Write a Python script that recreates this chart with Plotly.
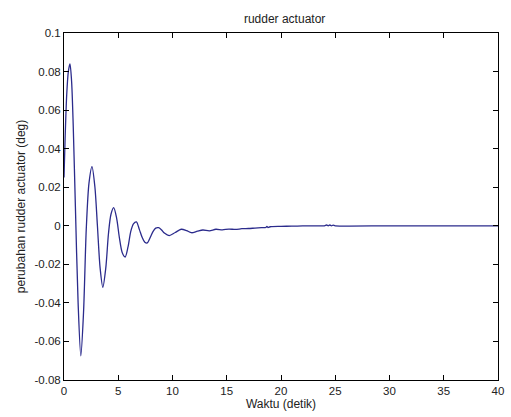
import plotly.graph_objects as go

# time (s) and rudder actuator change (deg)
t = [0.0, 0.1, 0.25, 0.4, 0.55, 0.7, 0.85, 1.05, 1.3, 1.55, 1.8, 2.05, 2.3, 2.58,
     2.85, 3.08, 3.33, 3.58, 3.85, 4.1, 4.33, 4.58, 4.85, 5.1, 5.37, 5.64,
     5.9, 6.15, 6.4, 6.67, 6.95, 7.2, 7.45, 7.67, 7.95, 8.2, 8.45, 8.73,
     9.0, 9.25, 9.7, 10.25, 10.8, 11.3, 11.75, 12.3, 12.8, 13.4, 14.0, 14.6,
     15.2, 15.8, 16.4, 17.0, 17.6, 18.2, 18.6, 18.7, 18.8, 19.0, 20.0, 21.0,
     22.0, 23.0, 24.0, 24.2, 24.35, 24.5, 24.65, 24.8, 25.0, 30.0, 35.0, 40.0]
y = [0.025, 0.045, 0.068, 0.080, 0.084, 0.075, 0.052, 0.010, -0.040, -0.0675, -0.045, -0.002, 0.022, 0.0307,
     0.020, 0.000, -0.022, -0.0319, -0.022, -0.004, 0.006, 0.0094, 0.004, -0.006, -0.014, -0.0162,
     -0.011, -0.003, 0.001, 0.002, -0.002, -0.006, -0.0085, -0.0089, -0.006, -0.003, -0.0012, -0.001,
     -0.0022, -0.0038, -0.0051, -0.0035, -0.0018, -0.0025, -0.0036, -0.0028, -0.0022, -0.0026, -0.0018, -0.0021,
     -0.0017, -0.0019, -0.0015, -0.0014, -0.0012, -0.0010, -0.0009, -0.0003, -0.0009, -0.0005, -0.0003, -0.0002,
     -0.0001, 0.0, 0.0, 0.0004, 0.0, 0.0004, 0.0, 0.0003, 0.0, 0.0, 0.0, 0.0]

x_ticks = [0, 5, 10, 15, 20, 25, 30, 35, 40]
y_ticks = [0.1, 0.08, 0.06, 0.04, 0.02, 0, -0.02, -0.04, -0.06, -0.08]
y_labels = ["0.1", "0.08", "0.06", "0.04", "0.02", "0", "-0.02", "-0.04", "-0.06", "-0.08"]

fig = go.Figure()
fig.add_trace(go.Scatter(x=t, y=y, mode="lines",
                         line=dict(color="#2b2b8c", width=1.3, shape="spline", smoothing=0.8),
                         hoverinfo="skip", showlegend=False))

tick_font = dict(family="Liberation Sans, Arial, sans-serif", size=11.5, color="#222222")
title_font = dict(family="Liberation Sans, Arial, sans-serif", size=12, color="#222222")
axis_common = dict(showgrid=False, zeroline=False, showline=True, linecolor="black", linewidth=1,
                   mirror="ticks", ticks="inside", ticklen=5, tickcolor="black", tickfont=tick_font)

fig.update_layout(
    width=511, height=417,
    margin=dict(l=64, r=7, t=33, b=37),
    paper_bgcolor="white", plot_bgcolor="white",
    title=dict(text="rudder actuator", x=0.557, xanchor="center", y=0.955, yanchor="middle",
               font=title_font),
    xaxis=dict(range=[0, 40], tickvals=x_ticks, ticktext=[str(v) for v in x_ticks],
               title=dict(text="Waktu (detik)", font=title_font, standoff=2), **axis_common),
    yaxis=dict(range=[-0.08, 0.1], tickvals=y_ticks, ticktext=y_labels,
               title=dict(text="perubahan rudder actuator (deg)", font=title_font, standoff=6), **axis_common),
)

fig.write_html("out.html")
